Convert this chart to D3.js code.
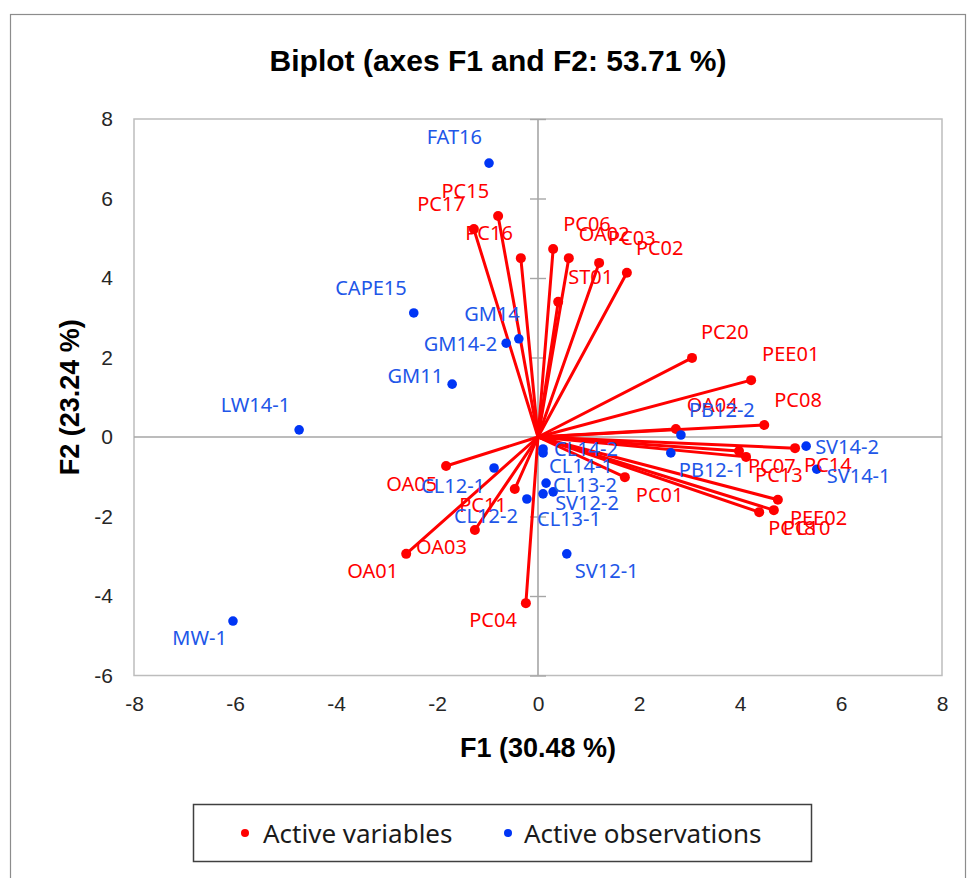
<!DOCTYPE html>
<html>
<head>
<meta charset="utf-8">
<script src="https://cdn.jsdelivr.net/npm/d3@7"></script>
<style>
  html, body { margin: 0; padding: 0; background: #ffffff; }
  svg { display: block; }
</style>
</head>
<body>
<svg id="chart" width="972" height="878"></svg>
<script>
// Active variables (loadings, F1/F2)
const variableNames = ["PC17","PC15","PC16","PC06","OA02","PC03","PC02","ST01","PC20","PEE01","PC08","OA04",
  "PC14","PC07","PC13","PEE02","PC10","PC18","PC01","PC11","OA05","OA03","OA01","PC04"];
const variableF1 = [-1.27,-0.79,-0.34,0.30,0.61,1.21,1.76,0.40,3.05,4.22,4.48,2.73,
  5.09,3.98,4.12,4.75,4.67,4.38,1.72,-0.46,-1.82,-1.25,-2.61,-0.24];
const variableF2 = [5.23,5.56,4.50,4.73,4.50,4.38,4.13,3.40,1.99,1.43,0.30,0.20,
  -0.28,-0.35,-0.50,-1.58,-1.84,-1.89,-1.01,-1.31,-0.73,-2.34,-2.94,-4.18];

// Active observations (scores, F1/F2)
const observationNames = ["FAT16","CAPE15","GM14","GM14-2","GM11","LW14-1","MW-1","CL12-1","CL14-2","CL14-1",
  "CL13-2","CL13-1","SV12-2","CL12-2","SV12-1","PB12-2","PB12-1","SV14-2","SV14-1"];
const observationF1 = [-0.97,-2.46,-0.38,-0.63,-1.70,-4.73,-6.04,-0.87,0.10,0.10,
  0.16,0.10,0.30,-0.22,0.57,2.83,2.63,5.31,5.52];
const observationF2 = [6.89,3.12,2.47,2.36,1.33,0.18,-4.63,-0.78,-0.30,-0.40,
  -1.16,-1.43,-1.38,-1.56,-2.94,0.05,-0.40,-0.23,-0.81];

// Axis ticks and titles
const xTicks = [-8,-6,-4,-2,0,2,4,6,8];
const yTicks = [-6,-4,-2,0,2,4,6,8];
const chartTitle = "Biplot (axes F1 and F2: 53.71 %)";
const xTitle = "F1 (30.48 %)";
const yTitle = "F2 (23.24 %)";
const legendLabels = ["Active variables", "Active observations"];

// Label placement around each point: [text-anchor, dx, dy] in pixels
const labelPlacement = {
  "PC17":["end",-9,-18], "PC15":["end",-9,-18], "PC16":["end",-8,-18],
  "PC06":["start",10,-18], "OA02":["start",10,-17], "PC03":["start",9,-18], "PC02":["start",9,-18],
  "ST01":["start",10,-18], "PC20":["start",9,-19], "PEE01":["start",11,-19], "PC08":["start",10,-18],
  "OA04":["start",11,-17], "PC14":["start",9,24], "PC07":["start",9,22], "PC13":["start",9,25],
  "PEE02":["start",12,25], "PC10":["start",9,25], "PC18":["start",9,23], "PC01":["start",11,25],
  "PC11":["end",-8,23], "OA05":["end",-9,25], "OA03":["end",-8,24], "OA01":["end",-8,24], "PC04":["end",-9,24],
  "FAT16":["end",-7,-19], "CAPE15":["end",-7,-18], "GM14":["end",1,-18], "GM14-2":["end",-9,8],
  "GM11":["end",-9,-1], "LW14-1":["end",-9,-18], "MW-1":["end",-6,24], "CL12-1":["end",-9,25],
  "CL14-2":["start",11,7], "CL14-1":["start",6,20], "CL13-2":["start",7,9], "CL13-1":["start",-6,32],
  "SV12-2":["start",2,18], "CL12-2":["end",-9,24], "SV12-1":["start",8,24], "PB12-2":["start",8,-18],
  "PB12-1":["start",8,24], "SV14-2":["start",9,8], "SV14-1":["start",10,14]
};

const RED = "#ff0000";
const BLUE_DOT = "#0035f5";
const BLUE_TEXT = "#2156e8";
const LABEL_FONT = "'Noto Sans', 'Open Sans', sans-serif";
const AXIS_FONT = "'Liberation Sans', Arial, sans-serif";

const variables = variableNames.map((n, i) => ({ name: n, f1: variableF1[i], f2: variableF2[i] }));
const observations = observationNames.map((n, i) => ({ name: n, f1: observationF1[i], f2: observationF2[i] }));

const svg = d3.select("#chart");

// Outer chart frame
svg.append("rect")
  .attr("x", 10.5).attr("y", 14.5).attr("width", 955).attr("height", 900)
  .attr("fill", "#ffffff").attr("stroke", "#8c8c8c").attr("stroke-width", 1.2);

const plot = { left: 134, right: 942, top: 119, bottom: 675.5 };
const x = d3.scaleLinear().domain([-8, 8]).range([plot.left, plot.right]);
const y = d3.scaleLinear().domain([-6, 8]).range([plot.bottom, plot.top]);

// Title
svg.append("text")
  .attr("x", 498).attr("y", 71)
  .attr("text-anchor", "middle")
  .attr("font-family", AXIS_FONT).attr("font-weight", "bold").attr("font-size", 30)
  .attr("fill", "#000")
  .text(chartTitle);

// Plot frame
svg.append("rect")
  .attr("x", plot.left).attr("y", plot.top)
  .attr("width", plot.right - plot.left).attr("height", plot.bottom - plot.top)
  .attr("fill", "none").attr("stroke", "#bdbdbd").attr("stroke-width", 1.5);

// Tick labels along the frame
const fmt = d => String(d);
const xAxis = svg.append("g")
  .attr("transform", `translate(0,${plot.bottom})`)
  .call(d3.axisBottom(x).tickValues(xTicks).tickSize(0).tickPadding(21).tickFormat(fmt));
const yAxis = svg.append("g")
  .attr("transform", `translate(${plot.left},0)`)
  .call(d3.axisLeft(y).tickValues(yTicks).tickSize(0).tickPadding(21).tickFormat(fmt));
[xAxis, yAxis].forEach(g => {
  g.select(".domain").remove();
  g.selectAll("text").attr("font-family", AXIS_FONT).attr("font-size", 21).attr("fill", "#262626");
});

// Zero axes
svg.append("line")
  .attr("x1", plot.left).attr("x2", plot.right).attr("y1", y(0)).attr("y2", y(0))
  .attr("stroke", "#a6a6a6").attr("stroke-width", 1.6);
svg.append("line")
  .attr("x1", x(0)).attr("x2", x(0)).attr("y1", plot.top).attr("y2", plot.bottom)
  .attr("stroke", "#a6a6a6").attr("stroke-width", 1.6);
const zeroTicks = svg.append("g")
  .attr("transform", `translate(${x(0) - 8},0)`)
  .call(d3.axisRight(y).tickValues(yTicks).tickSize(16).tickFormat(""));
zeroTicks.select(".domain").remove();
zeroTicks.selectAll("line").attr("stroke", "#a6a6a6").attr("stroke-width", 1.4);

// Variable vectors
svg.append("g").selectAll("line")
  .data(variables).join("line")
  .attr("x1", x(0)).attr("y1", y(0))
  .attr("x2", d => x(d.f1)).attr("y2", d => y(d.f2))
  .attr("stroke", RED).attr("stroke-width", 3).attr("stroke-linecap", "round");
svg.append("g").selectAll("circle")
  .data(variables).join("circle")
  .attr("cx", d => x(d.f1)).attr("cy", d => y(d.f2)).attr("r", 5)
  .attr("fill", RED);

// Observation points
svg.append("g").selectAll("circle")
  .data(observations).join("circle")
  .attr("cx", d => x(d.f1)).attr("cy", d => y(d.f2)).attr("r", 4.8)
  .attr("fill", BLUE_DOT);

// Point labels
function drawLabels(data, color) {
  svg.append("g").selectAll("text")
    .data(data).join("text")
    .attr("x", d => x(d.f1) + labelPlacement[d.name][1])
    .attr("y", d => y(d.f2) + labelPlacement[d.name][2])
    .attr("text-anchor", d => labelPlacement[d.name][0])
    .attr("font-family", LABEL_FONT).attr("font-size", 20)
    .attr("fill", color)
    .text(d => d.name);
}
drawLabels(variables, RED);
drawLabels(observations, BLUE_TEXT);

// Axis titles
svg.append("text")
  .attr("x", (plot.left + plot.right) / 2).attr("y", 757)
  .attr("text-anchor", "middle")
  .attr("font-family", AXIS_FONT).attr("font-weight", "bold").attr("font-size", 27)
  .attr("fill", "#000")
  .text(xTitle);
svg.append("text")
  .attr("transform", `translate(79,${(plot.top + plot.bottom) / 2}) rotate(-90)`)
  .attr("text-anchor", "middle")
  .attr("font-family", AXIS_FONT).attr("font-weight", "bold").attr("font-size", 27)
  .attr("fill", "#000")
  .text(yTitle);

// Legend
const legend = svg.append("g");
legend.append("rect")
  .attr("x", 193.5).attr("y", 804.5).attr("width", 618).attr("height", 57)
  .attr("fill", "#fff").attr("stroke", "#404040").attr("stroke-width", 1.5);
const legendItems = [
  { label: legendLabels[0], color: RED, dotX: 245, textX: 263 },
  { label: legendLabels[1], color: BLUE_DOT, dotX: 508, textX: 524 }
];
legend.selectAll("circle").data(legendItems).join("circle")
  .attr("cx", d => d.dotX).attr("cy", 833).attr("r", 4).attr("fill", d => d.color);
legend.selectAll("text").data(legendItems).join("text")
  .attr("x", d => d.textX).attr("y", 843)
  .attr("font-family", LABEL_FONT).attr("font-size", 26).attr("fill", "#1a1a1a")
  .text(d => d.label);
</script>
</body>
</html>
